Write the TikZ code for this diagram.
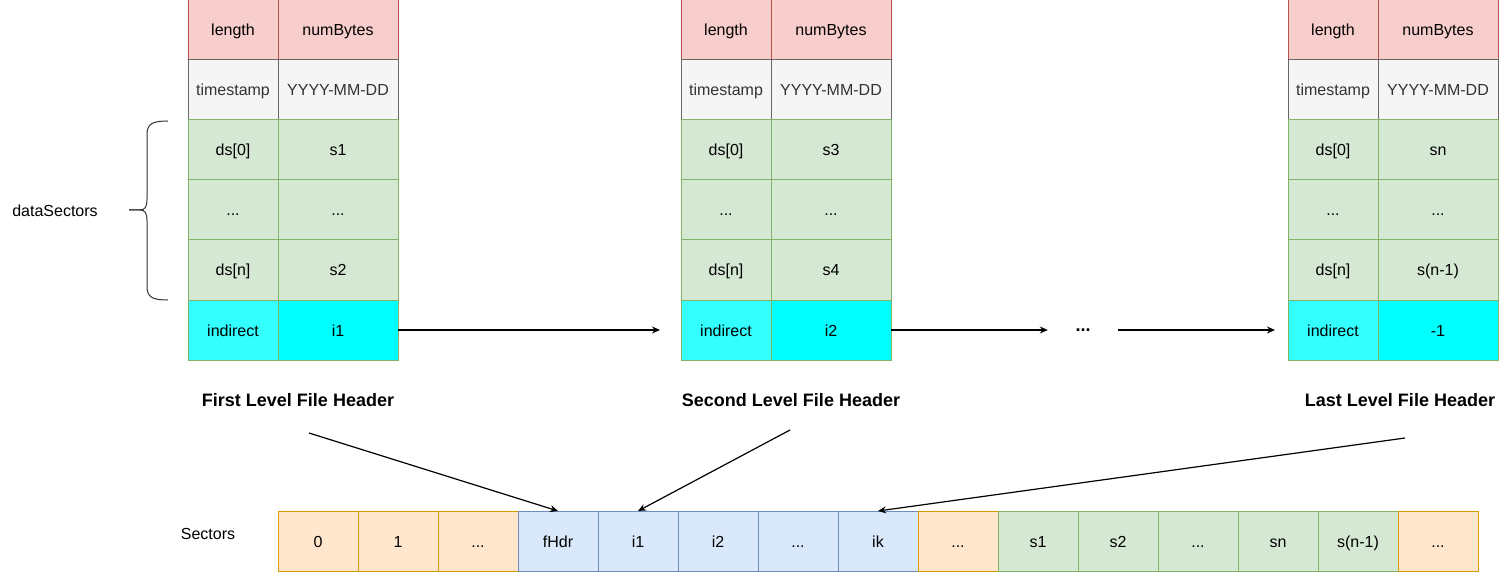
\documentclass[tikz,border=0pt]{standalone}
\usepackage{fontspec}
\setmainfont{Liberation Sans}
\usetikzlibrary{arrows.meta, positioning}
\definecolor{redfill}{HTML}{F8CECC}
\definecolor{redline}{HTML}{B85450}
\definecolor{grayfill}{HTML}{F5F5F5}
\definecolor{grayline}{HTML}{666666}
\definecolor{greenfill}{HTML}{D5E8D4}
\definecolor{greenline}{HTML}{82B366}
\definecolor{cyanlight}{HTML}{33FFFF}
\definecolor{cyanfull}{HTML}{00FFFF}
\definecolor{orangefill}{HTML}{FFE6CC}
\definecolor{orangeline}{HTML}{D79B00}
\definecolor{bluefill}{HTML}{DAE8FC}
\definecolor{blueline}{HTML}{6C8EBF}
\definecolor{darktext}{HTML}{333333}
\newcommand{\hdrtable}[5]{  % #1 = top left corner, #2 = name, #3 = first sector, #4 = last sector, #5 = indirect
	\node[keycell, redcell, anchor=north west, at={#1}] (#2len) {length};
	\node[valcell, redcell, right=0pt of #2len] (#2num) {numBytes};
	\node[keycell, graycell, below=0pt of #2len] (#2ts) {timestamp};
	\node[valcell, graycell, right=0pt of #2ts] (#2date) {YYYY-MM-DD};
	\node[keycell, greencell, below=0pt of #2ts] (#2dsa) {ds[0]};
	\node[valcell, greencell, right=0pt of #2dsa] (#2sa) {#3};
	\node[keycell, greencell, below=0pt of #2dsa] (#2dsb) {...};
	\node[valcell, greencell, right=0pt of #2dsb] (#2sb) {...};
	\node[keycell, greencell, below=0pt of #2dsb] (#2dsc) {ds[n]};
	\node[valcell, greencell, right=0pt of #2dsc] (#2sc) {#4};
	\node[keycell, fill=cyanlight, draw=greenline, below=0pt of #2dsc] (#2ind) {indirect};
	\node[valcell, fill=cyanfull, draw=greenline, right=0pt of #2ind] (#2ptr) {#5};
}

\begin{document}
\begin{tikzpicture}[x=1pt, y=-1pt,
	cell/.style={draw, line width=1pt, minimum height=60pt, inner sep=0pt, outer sep=0pt, align=center,
		text height=15pt, text depth=3pt, font=\fontsize{16}{19}\selectfont},
	keycell/.style={cell, minimum width=90pt},
	valcell/.style={cell, minimum width=120pt},
	sector/.style={cell, minimum width=80pt},
	redcell/.style={fill=redfill, draw=redline},
	graycell/.style={fill=grayfill, draw=grayline, text=darktext},
	greencell/.style={fill=greenfill, draw=greenline},
	orangecell/.style={fill=orangefill, draw=orangeline},
	bluecell/.style={fill=bluefill, draw=blueline},
	title/.style={font=\fontsize{18}{22}\selectfont\bfseries},
	plain/.style={font=\fontsize{16}{19}\selectfont},
	arrow/.style={-{Stealth[length=8pt, width=7pt]}, line width=1.2pt}
	]
	\useasboundingbox (0,0) rectangle (1505,572);

	% File headers
	\hdrtable{(188,0)}{first}{s1}{s2}{i1}
	\hdrtable{(681,0)}{second}{s3}{s4}{i2}
	\hdrtable{(1288,0)}{last}{sn}{s(n-1)}{-1}

	\node[title, minimum width=70pt, inner sep=0pt] (dots) at (1083,330) {...};

	\node[title] (firstlbl) at (298,400) {First Level File Header};
	\node[title] (secondlbl) at (791,400) {Second Level File Header};
	\node[title] (lastlbl) at (1400,400) {Last Level File Header};

	\node[plain] (dslbl) at (55,211) {dataSectors};
	\draw[line width=1pt, darktext] (168,121) .. controls (152,121) and (147,124) .. (147,135) -- (147,199)
		.. controls (147,207) and (145,210) .. (140,210) -- (129,210);
	\draw[line width=1pt, darktext] (129,210) -- (140,210) .. controls (145,210) and (147,213) .. (147,221)
		-- (147,286) .. controls (147,297) and (152,300) .. (168,300);

	% Sectors
	\node[plain] (seclbl) at (208,534) {Sectors};
	\node[sector, orangecell, anchor=north west] (sec0) at (278,511) {0};
	\node[sector, orangecell, right=0pt of sec0] (sec1) {1};
	\node[sector, orangecell, right=0pt of sec1] (sec2) {...};
	\node[sector, bluecell, right=0pt of sec2] (sec3) {fHdr};
	\node[sector, bluecell, right=0pt of sec3] (sec4) {i1};
	\node[sector, bluecell, right=0pt of sec4] (sec5) {i2};
	\node[sector, bluecell, right=0pt of sec5] (sec6) {...};
	\node[sector, bluecell, right=0pt of sec6] (sec7) {ik};
	\node[sector, orangecell, right=0pt of sec7] (sec8) {...};
	\node[sector, greencell, right=0pt of sec8] (sec9) {s1};
	\node[sector, greencell, right=0pt of sec9] (sec10) {s2};
	\node[sector, greencell, right=0pt of sec10] (sec11) {...};
	\node[sector, greencell, right=0pt of sec11] (sec12) {sn};
	\node[sector, greencell, right=0pt of sec12] (sec13) {s(n-1)};
	\node[sector, orangecell, right=0pt of sec13] (sec14) {...};

	\coordinate (firstsrc) at (309,433);
	\coordinate (secondsrc) at (790,430);
	\coordinate (lastsrc) at (1405,438);

	% Connections
	\draw[arrow, shorten >=21pt] (firstptr.east) -- (secondind.west);
	\draw[arrow] (secondptr.east) -- (dots.west);
	\draw[arrow, shorten >=13pt] (dots.east) -- (lastind.west);
	\draw[arrow] (firstsrc) -- (sec3.north);
	\draw[arrow] (secondsrc) -- (sec4.north);
	\draw[arrow] (lastsrc) -- (sec7.north);

\end{tikzpicture}
\end{document}
